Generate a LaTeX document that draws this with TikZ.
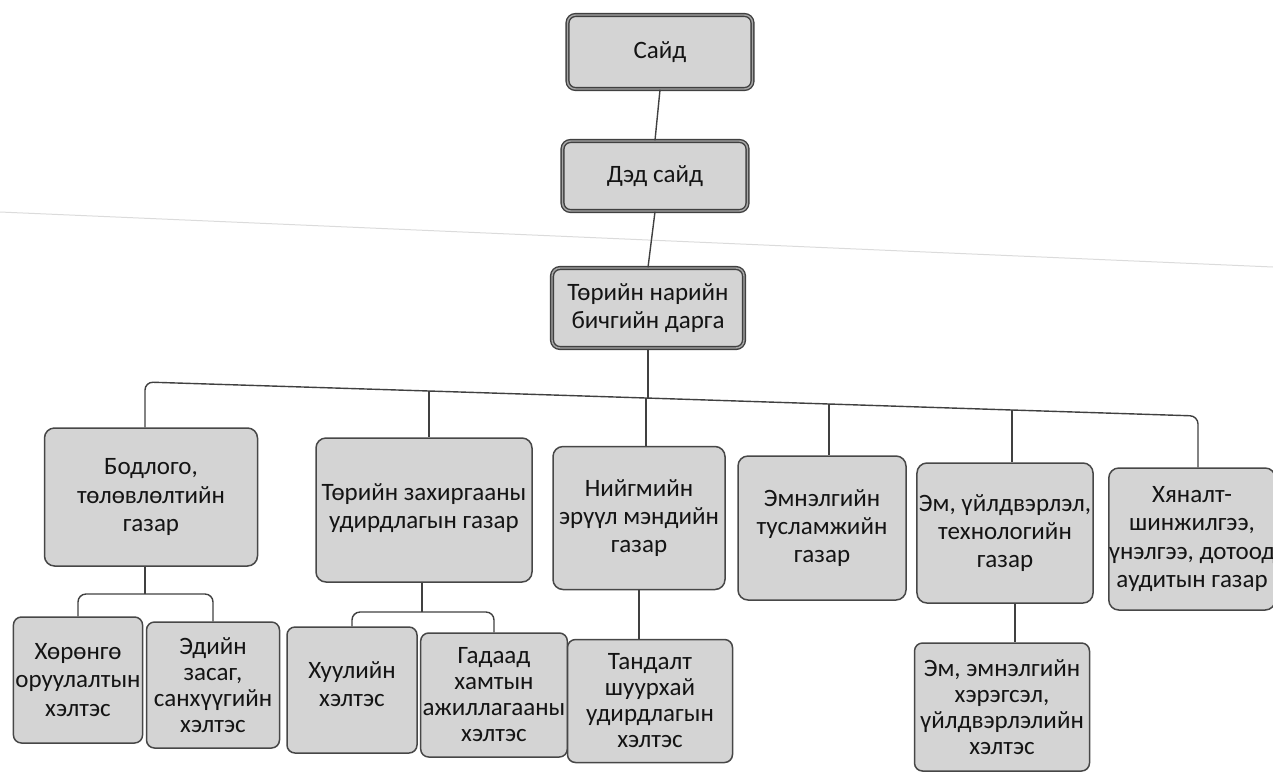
\documentclass[tikz,border=0pt]{standalone}
\usepackage{fontspec}
\setmainfont{Carlito}
\begin{document}
\begin{tikzpicture}[x=0.5pt,y=-0.5pt,
  box/.style={rectangle, rounded corners=4pt, draw=black!72, line width=0.75pt,
    fill=black!17, align=center, inner sep=1pt, text=black!92,
    font=\fontsize{12.5}{14.2}\selectfont},
  topbox/.style={box, draw=black!75, line width=0.7pt, double=black!35, double distance=0.7pt},
  tight/.style={font=\fontsize{12.5}{13}\selectfont},
  conn/.style={draw=black!75, line width=0.7pt},
  scan/.style={draw=black!14, line width=0.5pt}]
\useasboundingbox (0,0) rectangle (1273,772);
% faint scan line
\coordinate (sl) at (0,212);
\coordinate (sr) at (1273,267);
\draw[scan] (sl) -- (sr);

% top chain
\node[topbox, minimum width=92.5pt, minimum height=37pt] (say) at (660,52) {Сайд};
\node[topbox, minimum width=92.5pt, minimum height=35pt] (ded) at (655,176) {Дэд сайд};
\node[topbox, minimum width=96pt, minimum height=40pt] (tnb) at (648,308) {Төрийн нарийн\\бичгийн дарга};

% level 2
\node[box, rounded corners=5pt, minimum width=106.5pt, minimum height=69pt] (bod) at (151,497) {Бодлого,\\төлөвлөлтийн\\газар};
\node[box, rounded corners=5pt, minimum width=108pt, minimum height=72pt] (tzu) at (424,510) {Төрийн захиргааны\\удирдлагын газар\\[-10pt]};
\node[box, rounded corners=5pt, minimum width=86pt, minimum height=71.5pt] (nem) at (639,518) {Нийгмийн\\эрүүл мэндийн\\газар};
\node[box, rounded corners=5pt, minimum width=84pt, minimum height=72pt] (emt) at (822,528) {Эмнэлгийн\\тусламжийн\\газар};
\node[box, rounded corners=5pt, minimum width=88pt, minimum height=70pt] (emu) at (1005,533) {Эм, үйлдвэрлэл,\\технологийн\\газар};
\node[box, rounded corners=5pt, minimum width=79pt, minimum height=71pt, inner sep=0pt] (hya) at (1192,539) {Хяналт-\\шинжилгээ,\\үнэлгээ, дотоод\\аудитын газар};

% level 3
\node[box, minimum width=64pt, minimum height=63pt] (hor) at (78,680) {Хөрөнгө\\оруулалтын\\хэлтэс};
\node[box, tight, minimum width=66.5pt, minimum height=63pt] (edi) at (213,685) {Эдийн\\засаг,\\санхүүгийн\\хэлтэс};
\node[box, minimum width=65pt, minimum height=63pt] (huu) at (352,690) {Хуулийн\\хэлтэс\\[-8pt]};
\node[box, tight, minimum width=71pt, minimum height=62pt] (gad) at (494,695) {Гадаад\\хамтын\\ажиллагааны\\хэлтэс};
\node[box, tight, minimum width=82.5pt, minimum height=61.5pt] (tan) at (650,701) {Тандалт\\шуурхай\\удирдлагын\\хэлтэс};
\node[box, tight, minimum width=87.5pt, minimum height=64pt] (eme) at (1002,707) {Эм, эмнэлгийн\\хэрэгсэл,\\үйлдвэрлэлийн\\хэлтэс};

% trunk
\draw[conn] (say.south) -- (ded.north);
\draw[conn] (ded.south) -- (tnb.north);

% bus
\coordinate (b1) at (145,382);
\coordinate (b2) at (429,391);
\coordinate (b3) at (646,398);
\coordinate (b4) at (829,404);
\coordinate (b5) at (1012,410);
\coordinate (b6) at (1198,416);
\draw[conn] (tnb.south) -- (tnb.south |- b3);
\draw[conn, rounded corners=4pt] (b1 |- bod.north) -- (b1) -- (b2) -- (b3) -- (b4) -- (b5) -- (b6) -- (b6 |- hya.north);
\draw[conn] (b2) -- (b2 |- tzu.north);
\draw[conn] (b3) -- (b3 |- nem.north);
\draw[conn] (b4) -- (b4 |- emt.north);
\draw[conn] (b5) -- (b5 |- emu.north);

% sub branches
\coordinate (s1) at (145,594);
\draw[conn] (s1 |- bod.south) -- (s1);
\draw[conn, rounded corners=4pt] (hor.north) |- (s1) -| (edi.north);
\coordinate (s2) at (422,612);
\draw[conn] (s2 |- tzu.south) -- (s2);
\draw[conn, rounded corners=4pt] (huu.north) |- (s2) -| (gad.north);
\draw[conn] (nem.south) -- (nem.south |- tan.north);
\coordinate (s3) at (1015,620);
\draw[conn] (s3 |- emu.south) -- (s3 |- eme.north);
\end{tikzpicture}
\end{document}
